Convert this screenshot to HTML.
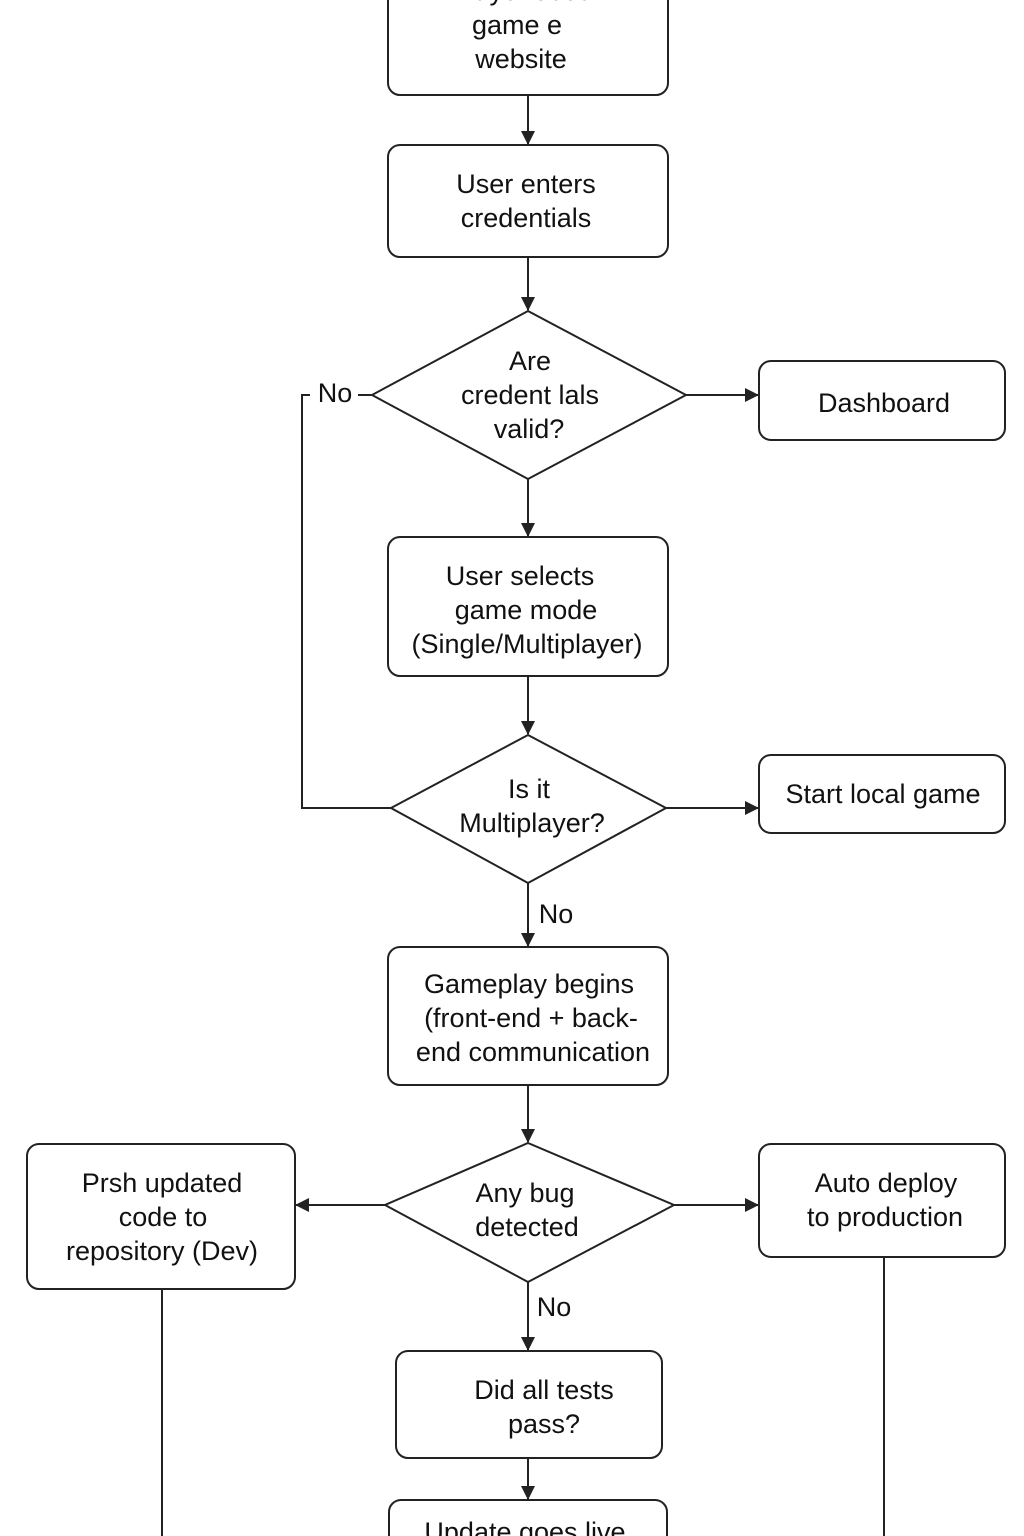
<!DOCTYPE html>
<html><head><meta charset="utf-8"><style>
html,body{margin:0;padding:0;background:#fff;}
svg{display:block;}
text{font-family:"Liberation Sans",sans-serif;font-size:27px;fill:#111;text-anchor:middle;dominant-baseline:central;}
</style></head><body>
<svg width="1024" height="1536" viewBox="0 0 1024 1536" xmlns="http://www.w3.org/2000/svg">
<defs><marker id="a" markerWidth="14" markerHeight="14" refX="13" refY="7" orient="auto" markerUnits="userSpaceOnUse"><path d="M0,0 L14,7 L0,14 z" fill="#222"/></marker></defs>
<g fill="none" stroke="#222" stroke-width="2">
<rect x="388" y="-20" width="280" height="115" rx="12"/>
<rect x="388" y="145" width="280" height="112" rx="12"/>
<polygon points="528,311 686,395 528,479 372,395"/>
<rect x="759" y="361" width="246" height="79" rx="12"/>
<rect x="388" y="537" width="280" height="139" rx="12"/>
<polygon points="528,735 666,808 528,883 391,808"/>
<rect x="759" y="755" width="246" height="78" rx="12"/>
<rect x="388" y="947" width="280" height="138" rx="12"/>
<polygon points="528,1143 674,1205 528,1282 385,1205"/>
<rect x="27" y="1144" width="268" height="145" rx="12"/>
<rect x="759" y="1144" width="246" height="113" rx="12"/>
<rect x="396" y="1351" width="266" height="107" rx="12"/>
<rect x="389" y="1500" width="278" height="60" rx="12"/>
<line x1="528" y1="95" x2="528" y2="144" marker-end="url(#a)"/>
<line x1="528" y1="257" x2="528" y2="310" marker-end="url(#a)"/>
<line x1="686" y1="395" x2="758" y2="395" marker-end="url(#a)"/>
<line x1="358" y1="395" x2="372" y2="395"/>
<polyline points="310,395 302,395 302,808 391,808"/>
<line x1="528" y1="479" x2="528" y2="536" marker-end="url(#a)"/>
<line x1="528" y1="676" x2="528" y2="734" marker-end="url(#a)"/>
<line x1="666" y1="808" x2="758" y2="808" marker-end="url(#a)"/>
<line x1="528" y1="883" x2="528" y2="946" marker-end="url(#a)"/>
<line x1="528" y1="1085" x2="528" y2="1142" marker-end="url(#a)"/>
<line x1="385" y1="1205" x2="296" y2="1205" marker-end="url(#a)"/>
<line x1="674" y1="1205" x2="758" y2="1205" marker-end="url(#a)"/>
<line x1="528" y1="1282" x2="528" y2="1350" marker-end="url(#a)"/>
<line x1="528" y1="1458" x2="528" y2="1499" marker-end="url(#a)"/>
<line x1="162" y1="1289" x2="162" y2="1536"/>
<line x1="884" y1="1257" x2="884" y2="1536"/>
</g>
<text x="521" y="-9">Player uses</text>
<text x="517" y="25">game e</text>
<text x="521" y="59">website</text>
<text x="526" y="184">User enters</text>
<text x="526" y="218">credentials</text>
<text x="530" y="361">Are</text>
<text x="530" y="395">credent lals</text>
<text x="529" y="429">valid?</text>
<text x="335" y="393">No</text>
<text x="884" y="403">Dashboard</text>
<text x="520" y="576">User selects</text>
<text x="526" y="610">game mode</text>
<text x="527" y="644">(Single/Multiplayer)</text>
<text x="529" y="789">Is it</text>
<text x="532" y="823">Multiplayer?</text>
<text x="883" y="794">Start local game</text>
<text x="556" y="914">No</text>
<text x="529" y="984">Gameplay begins</text>
<text x="531" y="1018">(front-end + back-</text>
<text x="533" y="1052">end communication</text>
<text x="525" y="1193">Any bug</text>
<text x="527" y="1227">detected</text>
<text x="162" y="1183">Prsh updated</text>
<text x="163" y="1217">code to</text>
<text x="162" y="1251">repository (Dev)</text>
<text x="886" y="1183">Auto deploy</text>
<text x="885" y="1217">to production</text>
<text x="554" y="1307">No</text>
<text x="544" y="1390">Did all tests</text>
<text x="544" y="1424">pass?</text>
<text x="525" y="1532">Update goes live</text>
</svg>
</body></html>
